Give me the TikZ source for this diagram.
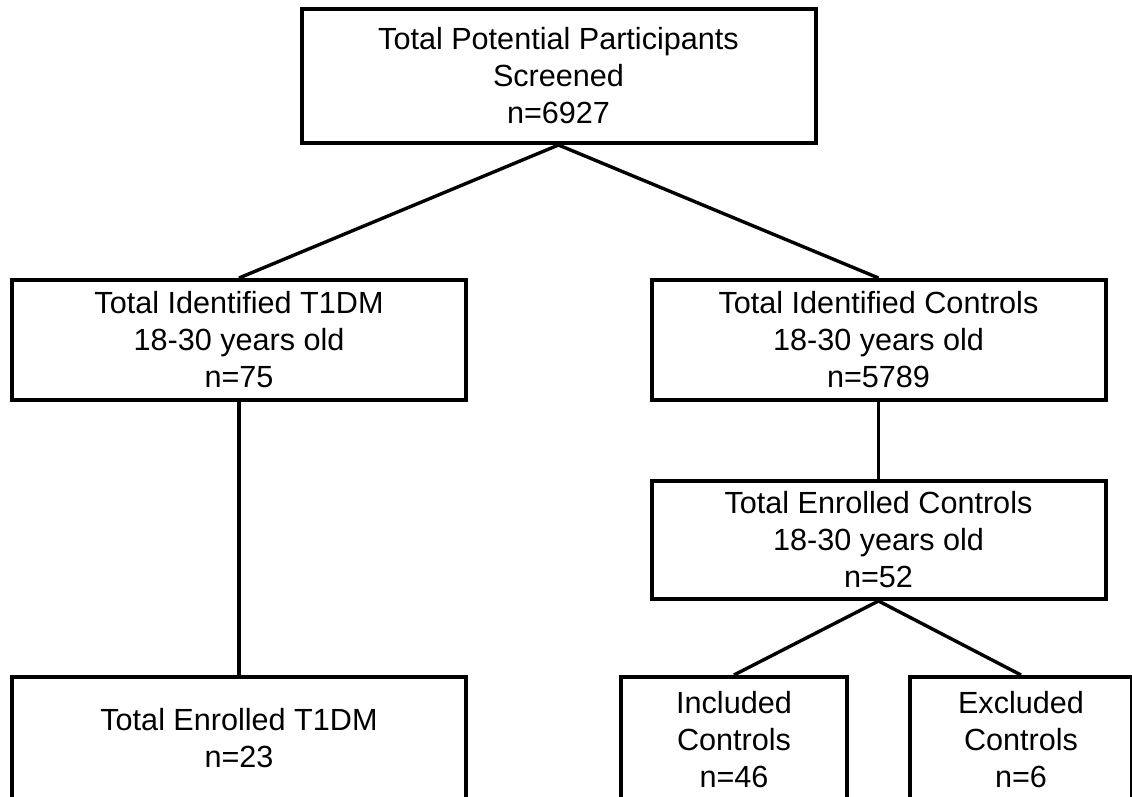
\documentclass[tikz,border=0pt]{standalone}
\usepackage{fontspec}
\setmainfont{Liberation Sans}
\tikzset{
  box/.style={draw=black,line width=2pt,align=center,inner sep=0pt,
    font=\fontsize{15.3}{18.5}\selectfont},
  link/.style={black,line width=1.7pt}
}
\begin{document}
\begin{tikzpicture}[x=0.5pt,y=-0.5pt]
\useasboundingbox (0,0) rectangle (1132,797);
\node[box,minimum width=257pt,minimum height=67pt] (screen) at (558.5,76) {Total Potential Participants\\Screened\\n=6927};
\node[box,minimum width=227pt,minimum height=60pt] (idT1) at (239,340) {Total Identified T1DM\\18-30 years old\\n=75};
\node[box,minimum width=227pt,minimum height=60pt] (idCtrl) at (878.5,340) {Total Identified Controls\\18-30 years old\\n=5789};
\node[box,minimum width=227pt,minimum height=59pt] (enrCtrl) at (878.5,540) {Total Enrolled Controls\\18-30 years old\\n=52};
\node[box,minimum width=227pt,minimum height=61pt] (enrT1) at (239,738) {Total Enrolled T1DM\\n=23};
\node[box,minimum width=113pt,minimum height=63pt] (incl) at (734,740) {Included\\Controls\\n=46};
\node[box,minimum width=111pt,minimum height=63pt] (excl) at (1021,740) {Excluded\\Controls\\n=6};

\draw[link] (screen.south) -- (idT1.north);
\draw[link] (screen.south) -- (idCtrl.north);
\draw[link] (idT1.south) -- (enrT1.north);
\draw[link] (idCtrl.south) -- (enrCtrl.north);
\draw[link] (enrCtrl.south) -- (incl.north);
\draw[link] (enrCtrl.south) -- (excl.north);
\end{tikzpicture}
\end{document}
